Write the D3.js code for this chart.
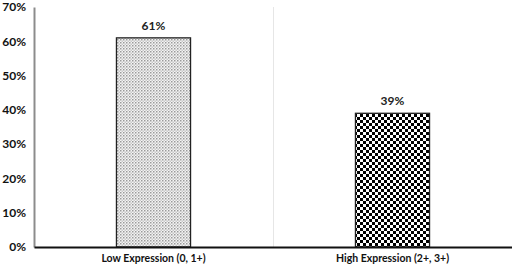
<!DOCTYPE html>
<html><head><meta charset="utf-8">
<script src="https://cdn.jsdelivr.net/npm/d3@7"></script>
<style>body{margin:0;background:#fff}svg{display:block}</style>
</head><body>
<script>
const categories = ["Low Expression (0, 1+)", "High Expression (2+, 3+)"];
const values = [0.61, 0.39];
const valueLabels = ["61%", "39%"];
const yTicks = [0, 0.1, 0.2, 0.3, 0.4, 0.5, 0.6, 0.7];

const W = 512, H = 269;
const m = {l: 34, r: 0, t: 7, b: 22};
const svg = d3.select("body").append("svg").attr("width", W).attr("height", H);
const defs = svg.append("defs");
// fine dotted pattern
const p1 = defs.append("pattern").attr("id","dots").attr("patternUnits","userSpaceOnUse").attr("width",3).attr("height",3);
p1.append("rect").attr("width",3).attr("height",3).attr("fill","#f4f4f4");
p1.append("rect").attr("width",1.5).attr("height",1.5).attr("fill","#9a9a9a");
p1.append("rect").attr("x",1.5).attr("y",1.5).attr("width",1.5).attr("height",1.5).attr("fill","#c8c8c8");
// checkerboard
const p2 = defs.append("pattern").attr("id","check").attr("patternUnits","userSpaceOnUse").attr("width",6).attr("height",6);
p2.append("rect").attr("width",6).attr("height",6).attr("fill","#fff");
p2.append("rect").attr("width",3).attr("height",3).attr("fill","#000");
p2.append("rect").attr("x",3).attr("y",3).attr("width",3).attr("height",3).attr("fill","#000");

const x = d3.scaleBand().domain(categories).range([m.l, W - m.r]).paddingInner(0).paddingOuter(0);
const y = d3.scaleLinear().domain([0, 0.7]).range([H - m.b, m.t]);
const font = "Lato, 'Open Sans', sans-serif";

// separator gridline between categories
svg.append("line").attr("x1", x(categories[1])+0.5).attr("x2", x(categories[1])+0.5)
  .attr("y1", m.t).attr("y2", y(0)).attr("stroke","#e6e6e6").attr("stroke-width",1);

const bw = x.bandwidth() * 0.31;
const fills = ["url(#dots)", "url(#check)"];
svg.selectAll("rect.bar").data(values).join("rect").attr("class","bar")
  .attr("x", (d,i) => x(categories[i]) + x.bandwidth()/2 - bw/2)
  .attr("y", d => y(d)).attr("width", bw).attr("height", d => y(0) - y(d))
  .attr("fill", (d,i) => fills[i]).attr("stroke", "#222").attr("stroke-width", 1.3);

svg.selectAll("text.val").data(values).join("text").attr("class","val")
  .attr("x", (d,i) => x(categories[i]) + x.bandwidth()/2)
  .attr("y", d => y(d) - 8).attr("text-anchor","middle")
  .attr("font-family", font).attr("font-weight","bold").attr("font-size", 12).attr("fill","#222")
  .text((d,i) => valueLabels[i]);

// y axis
const ya = svg.append("g").attr("transform", `translate(${m.l},0)`)
  .call(d3.axisLeft(y).tickValues(yTicks).tickFormat(d3.format(".0%")).tickSize(0).tickPadding(8));
ya.select(".domain").attr("stroke","#8c8c8c").attr("stroke-width",2);
ya.selectAll("text").attr("font-family", font).attr("font-weight","bold").attr("font-size",12).attr("fill","#111");

// x axis
const xa = svg.append("g").attr("transform", `translate(0,${y(0)})`)
  .call(d3.axisBottom(x).tickSize(0).tickPadding(8));
xa.select(".domain").attr("stroke","#111").attr("stroke-width",2);
xa.selectAll("text").attr("font-family", font).attr("font-weight","bold").attr("font-size",10.5).attr("fill","#111");
</script>
</body></html>
